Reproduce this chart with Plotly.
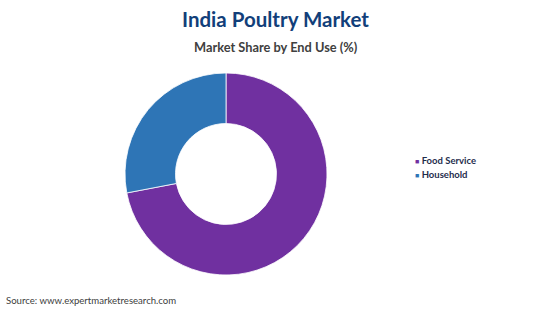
import plotly.graph_objects as go

categories = ["Food Service", "Household"]
shares = [72, 28]
colors = ["#7030A0", "#2E75B6"]

fig = go.Figure()
fig.add_trace(go.Pie(
    labels=categories, values=shares, hole=0.5, sort=False,
    direction="clockwise", rotation=0, textinfo="none", hoverinfo="label+percent",
    marker=dict(colors=colors, line=dict(color="white", width=0.8)),
    domain=dict(x=[125/550, 327/550], y=[34/309, 236/309]),
    showlegend=False,
))

annotations = [
    dict(text="<b>India Poultry Market</b>", x=275/550, y=1 - 19/309, xref="paper", yref="paper",
         yanchor="middle", showarrow=False, font=dict(size=20.5, color="#123F7A", family="Lato")),
    dict(text="<b>Market Share by End Use (%)</b>", x=276/550, y=1 - 47/309, xref="paper", yref="paper",
         yanchor="middle", showarrow=False, font=dict(size=12.8, color="#404040", family="Lato")),
    dict(text="Source: www.expertmarketresearch.com", x=4/550, y=1 - 300/309, xref="paper", yref="paper",
         xanchor="left", yanchor="middle", showarrow=False, font=dict(size=9.6, color="#404040", family="Lato")),
]
legend_y = [160, 174]
for c, col, yy in zip(categories, colors, legend_y):
    annotations.append(dict(
        text=f'<span style="color:{col};font-size:7px">■</span> <b>{c}</b>',
        x=413/550, y=1 - yy/309, xref="paper", yref="paper", xanchor="left", yanchor="middle",
        showarrow=False, font=dict(size=9.5, color="#1F2D4D", family="Lato"),
    ))

fig.update_layout(
    width=550, height=309, margin=dict(l=0, r=0, t=0, b=0),
    paper_bgcolor="white", plot_bgcolor="white",
    font=dict(family="Lato, Open Sans, sans-serif"),
    annotations=annotations,
)
fig.write_html("out.html")
